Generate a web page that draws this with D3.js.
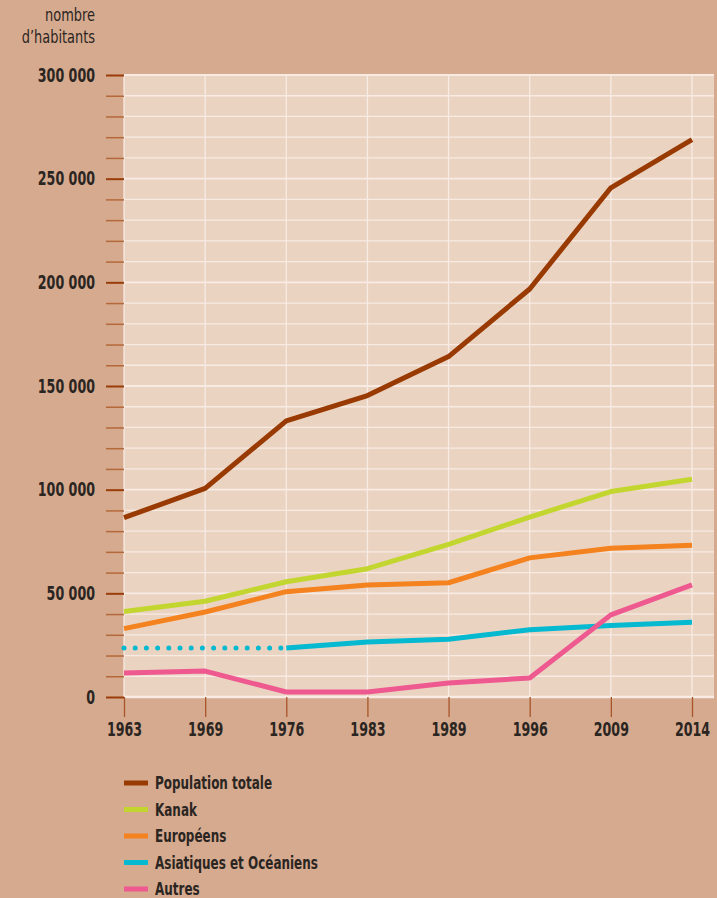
<!DOCTYPE html>
<html>
<head>
<meta charset="utf-8">
<script src="https://cdn.jsdelivr.net/npm/d3@7"></script>
<style>
  body { margin: 0; background: #d5aa8e; }
  svg { display: block; }
  text { font-family: "DejaVu Sans Condensed", "DejaVu Sans", sans-serif; fill: #2b2522; }
</style>
</head>
<body>
<div id="chart"></div>
<script>
// recensements
const annees = ["1963", "1969", "1976", "1983", "1989", "1996", "2009", "2014"];
const populationTotale = [86500, 100600, 133200, 145400, 164200, 196800, 245600, 268800];
const kanak = [41200, 46200, 55600, 61900, 73600, 86800, 99100, 105000];
const europeens = [33000, 41000, 50800, 54000, 55100, 67100, 71700, 73200];
// 1963-1976 : estimation (pointillés)
const asiatiquesEstimes = [23600, 23600, 23600, null, null, null, null, null];
const asiatiques = [null, null, 23600, 26500, 27900, 32400, 34500, 36000];
const autres = [11600, 12500, 2400, 2400, 6800, 9200, 39600, 54100];
const yTicks = [0, 50000, 100000, 150000, 200000, 250000, 300000];

const series = [
  { nom: "Population totale", valeurs: populationTotale, couleur: "#983a02" },
  { nom: "Kanak", valeurs: kanak, couleur: "#c3d62f" },
  { nom: "Européens", valeurs: europeens, couleur: "#f4821f" },
  { nom: "Asiatiques et Océaniens", valeurs: asiatiques, couleur: "#04b9d0", pointilles: asiatiquesEstimes },
  { nom: "Autres", valeurs: autres, couleur: "#ee5990" }
];

const W = 717, H = 898;
const plot = { left: 124, right: 714, top: 75, bottom: 697 };
const serre = 0.74; // police étroite simulée

const svg = d3.select("#chart").append("svg")
    .attr("width", W)
    .attr("height", H);

const x = d3.scalePoint()
    .domain(annees)
    .range([plot.left, 692]);

const y = d3.scaleLinear()
    .domain([0, 300000])
    .range([plot.bottom, plot.top]);

// fond du graphique
svg.append("rect")
    .attr("x", plot.left)
    .attr("y", plot.top)
    .attr("width", plot.right - plot.left)
    .attr("height", plot.bottom - plot.top)
    .attr("fill", "#ebd3c2");

const minor = d3.range(0, 300001, 10000);

// grille horizontale
svg.append("g").selectAll("line")
    .data(minor)
    .join("line")
    .attr("x1", plot.left).attr("x2", plot.right)
    .attr("y1", d => y(d)).attr("y2", d => y(d))
    .attr("stroke", "#f7ebe3")
    .attr("stroke-width", d => d === 0 ? 2.5 : (yTicks.includes(d) ? 1.8 : 1.3));

// grille verticale
svg.append("g").selectAll("line")
    .data(annees)
    .join("line")
    .attr("x1", d => x(d)).attr("x2", d => x(d))
    .attr("y1", plot.top).attr("y2", plot.bottom)
    .attr("stroke", "#f7ebe3")
    .attr("stroke-width", 1.3);

// axe y
const yAxis = d3.axisLeft(y)
    .tickValues(minor)
    .tickSize(18)
    .tickFormat(d => yTicks.includes(d) ? d3.format(",")(d).replace(/,/g, " ") : "");

const gy = svg.append("g")
    .attr("transform", `translate(${plot.left},0)`)
    .call(yAxis);
gy.select(".domain").remove();
gy.selectAll(".tick line")
    .attr("stroke", d => yTicks.includes(d) ? "#9a3d0a" : "#b5683a")
    .attr("stroke-width", d => yTicks.includes(d) ? 2 : 1.5);
gy.selectAll(".tick text")
    .attr("x", 0)
    .attr("dy", "0.33em")
    .attr("transform", `translate(-29,0) scale(${serre},1)`)
    .attr("font-size", 19)
    .attr("font-weight", "bold")
    .attr("fill", "#2b2522")
    .attr("font-family", null);

// axe x
const xAxis = d3.axisBottom(x)
    .tickSize(20);

const gx = svg.append("g")
    .attr("transform", `translate(0,${plot.bottom})`)
    .call(xAxis);
gx.select(".domain").remove();
gx.selectAll(".tick line")
    .attr("stroke", "#a8552a")
    .attr("stroke-width", 1.3);
gx.selectAll(".tick text")
    .attr("y", 0)
    .attr("dy", "0.71em")
    .attr("transform", `translate(0,26) scale(${serre},1)`)
    .attr("font-size", 19)
    .attr("font-weight", "bold")
    .attr("fill", "#2b2522")
    .attr("font-family", null);

// titre de l'axe
[["nombre", 21], ["d’habitants", 43]].forEach(([t, ty]) => {
  svg.append("text")
      .attr("transform", `translate(95,${ty}) scale(0.8,1)`)
      .attr("text-anchor", "end")
      .attr("font-size", 18)
      .attr("fill", "#3a3430")
      .text(t);
});

// courbes
const line = d3.line()
    .defined(d => d.v != null)
    .x(d => x(d.a))
    .y(d => y(d.v));

const toPts = vals => annees.map((a, i) => ({ a: a, v: vals[i] }));

series.forEach(s => {
  if (s.pointilles) {
    svg.append("path")
        .datum(toPts(s.pointilles))
        .attr("d", line)
        .attr("fill", "none")
        .attr("stroke", s.couleur)
        .attr("stroke-width", 5)
        .attr("stroke-linecap", "round")
        .attr("stroke-dasharray", "0 11.2");
  }
  svg.append("path")
      .datum(toPts(s.valeurs))
      .attr("d", line)
      .attr("fill", "none")
      .attr("stroke", s.couleur)
      .attr("stroke-width", 5)
      .attr("stroke-linejoin", "round");
});

// légende
const leg = svg.append("g")
    .selectAll("g")
    .data(series)
    .join("g")
    .attr("transform", (d, i) => `translate(124,${783 + i * 26.5})`);
leg.append("line")
    .attr("x1", 0).attr("x2", 24)
    .attr("stroke", d => d.couleur)
    .attr("stroke-width", 5);
leg.append("text")
    .attr("transform", `translate(31,0) scale(${serre},1)`)
    .attr("dy", "0.36em")
    .attr("font-size", 18)
    .attr("font-weight", "bold")
    .text(d => d.nom);
</script>
</body>
</html>
